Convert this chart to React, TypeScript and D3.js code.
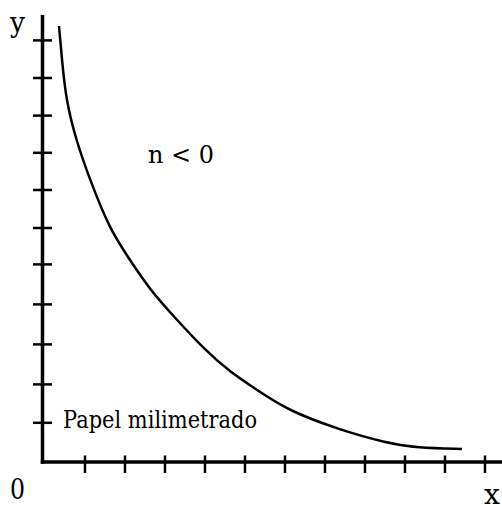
import React from "react";
import * as d3 from "d3";

// Curve y = k·x^n with n < 0, sampled on the grid (x units, y units)
const curveX = [0.35, 0.425, 0.525, 0.775, 1.125, 1.625, 2.125, 2.625, 3.3, 4.0, 4.625, 5.3, 6.05, 7.375, 8.55, 9.3, 10.425];
const curveY = [10.9, 10.05, 9.05, 8.05, 7.05, 5.8, 5.05, 4.3, 3.55, 2.8, 2.25, 1.8, 1.3, 0.8, 0.475, 0.35, 0.325];

// Axis tick marks (unlabelled)
const xTicks = [1, 2, 3, 4, 5, 6, 7, 8, 9, 10, 11];
const yTicks = [0.98, 1.94, 2.94, 3.94, 4.94, 5.85, 6.8, 7.73, 8.66, 9.6, 10.54];

const axisLabels = { x: "x", y: "y", origin: "0" };
const curveLabel = "n < 0";
const paperLabel = "Papel milimetrado";

const W = 502;
const H = 505;

export default function App() {
  const x = d3.scaleLinear().domain([0, 11]).range([45, 485]);
  const y = d3.scaleLinear().domain([0, 11]).range([462, 22]);

  const pts: [number, number][] = curveX.map((v, i) => [v, curveY[i]]);
  // B-spline smoothing through the sampled points
  const line = d3
    .line<[number, number]>()
    .x((d) => x(d[0]))
    .y((d) => y(d[1]))
    .curve(d3.curveBasis);

  const x0 = 42.5;
  const y0 = y(0);
  const textStyle = { fontFamily: "'DejaVu Serif', serif" };

  return (
    <svg
      width={W}
      height={H}
      style={{ position: "absolute", left: 0, top: 0, background: "#fff" }}
    >
      {/* axes */}
      <line x1={x0} y1={15} x2={x0} y2={y0 + 1.75} stroke="#000" strokeWidth={3.5} />
      <line x1={x0 - 1.75} y1={y0} x2={W} y2={y0} stroke="#000" strokeWidth={3.5} />

      {/* ticks */}
      {xTicks.map((t) => (
        <line key={"xt" + t} x1={x(t)} x2={x(t)} y1={y0 - 6.5} y2={y0 + 11} stroke="#000" strokeWidth={2.5} />
      ))}
      {yTicks.map((t) => (
        <line key={"yt" + t} x1={33} x2={52} y1={y(t)} y2={y(t)} stroke="#000" strokeWidth={2.5} />
      ))}

      {/* curve */}
      <path d={line(pts) ?? ""} fill="none" stroke="#000" strokeWidth={2.5} />

      {/* labels */}
      <text x={10} y={32} fontSize={28} style={textStyle} textLength={15} lengthAdjust="spacingAndGlyphs">{axisLabels.y}</text>
      <text x={10} y={499} fontSize={27} style={textStyle} textLength={15} lengthAdjust="spacingAndGlyphs">{axisLabels.origin}</text>
      <text x={484} y={504} fontSize={27} style={textStyle} textLength={16} lengthAdjust="spacingAndGlyphs">{axisLabels.x}</text>
      <text x={148} y={163} fontSize={25} style={textStyle} textLength={66} lengthAdjust="spacingAndGlyphs">{curveLabel}</text>
      <text x={63} y={428} fontSize={25} style={textStyle} textLength={194} lengthAdjust="spacingAndGlyphs">{paperLabel}</text>
    </svg>
  );
}
